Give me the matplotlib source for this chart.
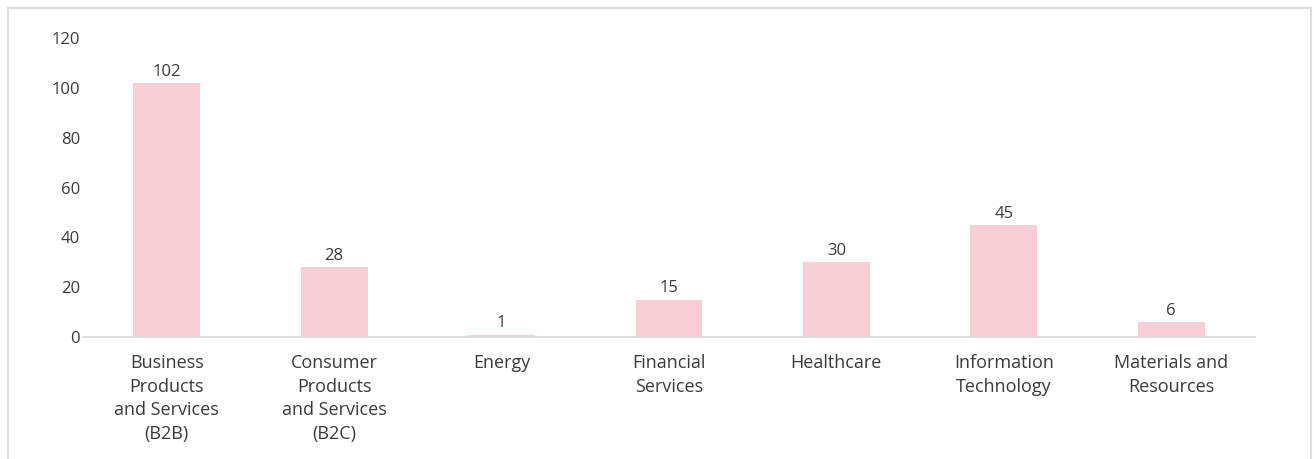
import matplotlib.pyplot as plt
from matplotlib.patches import Rectangle

categories = ["Business\nProducts\nand Services\n(B2B)", "Consumer\nProducts\nand Services\n(B2C)",
              "Energy", "Financial\nServices", "Healthcare", "Information\nTechnology",
              "Materials and\nResources"]
counts = [102, 28, 1, 15, 30, 45, 6]
yticks = [0, 20, 40, 60, 80, 100, 120]

plt.rcParams['font.family'] = ['Open Sans', 'DejaVu Sans']
text_color = '#3a3a3a'

fig = plt.figure(figsize=(13.14, 4.59), dpi=100)
ax = fig.add_axes([83 / 1314, 1 - 337 / 459, (1255 - 83) / 1314, (337 - 38) / 459])

x = range(len(categories))
bars = ax.bar(x, counts, width=0.4, color='#f8cfd4')
for b, v in zip(bars, counts):
    ax.text(b.get_x() + b.get_width() / 2, v + 1.3, str(v), ha='center', va='bottom',
            fontsize=12, color=text_color)

ax.set_xlim(-0.5, len(categories) - 0.5)
ax.set_ylim(0, 120)
ax.set_yticks(yticks)
ax.set_xticks(list(x))
ax.set_xticklabels(categories, fontsize=13, color=text_color, linespacing=1.42)
ax.tick_params(axis='y', length=0, labelsize=12, labelcolor=text_color, pad=2)
ax.tick_params(axis='x', length=0, pad=12)
for s in ['top', 'right', 'left']:
    ax.spines[s].set_visible(False)
ax.spines['bottom'].set_color('#d9d9d9')
ax.spines['bottom'].set_linewidth(1.2)

# card border
fig.patches.append(Rectangle((7.5 / 1314, -0.05), (1311 - 7.5) / 1314, 1.05 - 8 / 459,
                             transform=fig.transFigure, fill=False, edgecolor='#dddddd',
                             linewidth=1.5))

fig.savefig('out.png', dpi=100)
